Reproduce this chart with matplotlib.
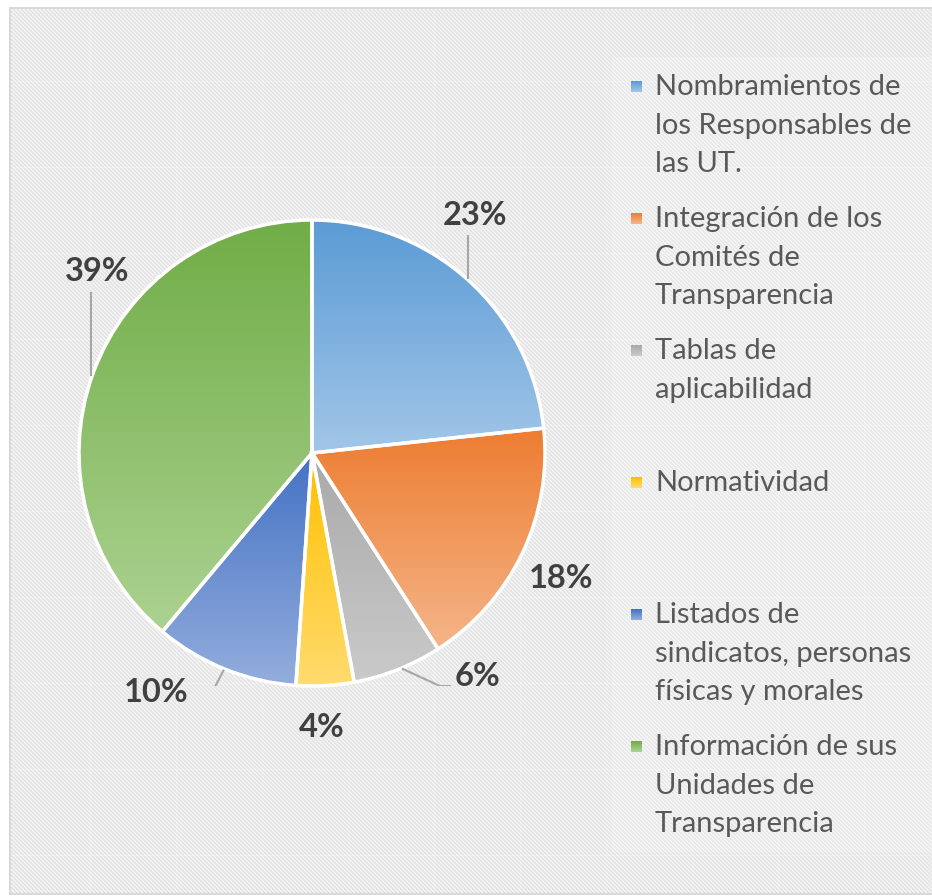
import numpy as np
import matplotlib
matplotlib.use("Agg")
import matplotlib.pyplot as plt
from matplotlib.colors import to_rgb

# ---------------- data ----------------
categories = [
    "Nombramientos de\nlos Responsables de\nlas UT.",
    "Integración de los\nComités de\nTransparencia",
    "Tablas de\naplicabilidad",
    "Normatividad",
    "Listados de\nsindicatos, personas\nfísicas y morales",
    "Información de sus\nUnidades de\nTransparencia",
]
values = [23.3, 17.6, 6.2, 4.0, 10.0, 38.9]
top_colors = ["#5B9BD5", "#ED7D31", "#A9A9A9", "#FFC000", "#4472C4", "#70AD47"]
bottom_colors = ["#A2C6E8", "#F5B589", "#CACACA", "#FFDB6E", "#93ADDD", "#ACD291"]

# label positions (in pie radius units) and leader lines
label_pos = [(0.70, 1.02), (1.07, -0.54), (0.71, -0.96), (0.04, -1.18), (-0.67, -1.03), (-0.92, 0.78)]
leaders = {
    0: [(0.67, 0.745), (0.67, 0.936)],
    2: [(0.386, -0.925), (0.549, -1.0), (0.597, -1.0)],
    4: [(-0.378, -0.93), (-0.459, -1.086), (-0.515, -1.086)],
    5: [(-0.948, 0.33), (-0.948, 0.691)],
}

W, H = 932, 896
fig = plt.figure(figsize=(W / 100, H / 100), dpi=100, facecolor="white")

# ---------------- background (striped pattern) ----------------
rows, cols = np.mgrid[0:H, 0:W]
stripe = 0.5 + 0.5 * np.cos(2 * np.pi * (cols - rows) / 4.0)
dark, light = 0xE0 / 255, 0xF6 / 255
bg = light + (dark - light) * stripe
# legend area slightly lighter
leg = (cols >= 612) & (rows >= 57) & (rows <= 851)
bg = np.where(leg, 0xF8 / 255 + (0xE5 / 255 - 0xF8 / 255) * stripe, bg)
# faint tile seams
seam = ((cols - 90) % 86 == 0) | ((rows - 81) % 86 == 0)
bg = np.where(seam, np.minimum(bg + 0.012, 1.0), bg)
# outside border white
inside = (cols >= 11) & (rows >= 9) & (rows <= 892)
bg = np.where(inside, bg, 1.0)
# border
border = ((cols >= 9) & (cols <= 10) & (rows >= 7) & (rows <= 894)) | \
         ((((rows >= 7) & (rows <= 8)) | ((rows >= 893) & (rows <= 894))) & (cols >= 9))
bg = np.where(border, 0xD9 / 255, bg)
img = np.dstack([bg, bg, bg])
fig.figimage(img, xo=0, yo=0, origin="upper", zorder=-10)

# ---------------- pie ----------------
cx, cy, R = 312, 453, 233
ax = fig.add_axes([(cx - R) / W, (H - cy - R) / H, 2 * R / W, 2 * R / H])
ax.patch.set_alpha(0)
wedges, _ = ax.pie(values, startangle=90, counterclock=False, radius=1,
                   wedgeprops=dict(edgecolor="white", linewidth=2.5, facecolor="none"))


def grad_img(c_top, c_bot, n=256):
    t = np.linspace(0, 1, n)[:, None]
    a = np.array(to_rgb(c_top))
    b = np.array(to_rgb(c_bot))
    g = a[None, None, :] * (1 - t[:, :, None]) + b[None, None, :] * t[:, :, None]
    return np.repeat(g, 2, axis=1)


for w, ct, cb in zip(wedges, top_colors, bottom_colors):
    w.set_facecolor("none")
    w.set_zorder(3)
    ext = w.get_path().get_extents()
    im = ax.imshow(grad_img(ct, cb), extent=(ext.x0, ext.x1, ext.y0, ext.y1),
                   origin="upper", aspect="auto", interpolation="bilinear", zorder=2)
    im.set_clip_path(w)

for i, (v, (lx, ly)) in enumerate(zip(values, label_pos)):
    ax.text(lx, ly, f"{round(v):.0f}%", ha="center", va="center", fontsize=23.5,
            fontweight="bold", color="#404040", family="Lato", zorder=5)
for i, pts in leaders.items():
    xs, ys = zip(*pts)
    ax.plot(xs, ys, color="#A6A6A6", lw=1.5, zorder=4, solid_capstyle="butt")

ax.set_xlim(-1, 1)
ax.set_ylim(-1, 1)
ax.set_aspect("auto")
ax.axis("off")

# ---------------- legend ----------------
lax = fig.add_axes([0, 0, 1, 1])
lax.set_xlim(0, W)
lax.set_ylim(H, 0)
lax.axis("off")
lax.patch.set_alpha(0)
item_y0, item_dy = 85, 132
for k, (name, ct, cb) in enumerate(zip(categories, top_colors, bottom_colors)):
    y = item_y0 + k * item_dy
    lax.imshow(grad_img(ct, cb, 16), extent=(631, 642, y + 7, y - 4), origin="upper",
               aspect="auto", interpolation="bilinear", zorder=2)
    lax.text(655, y - 11, name, ha="left", va="top", fontsize=21, color="#595959",
             family="Lato", linespacing=1.6)
lax.set_xlim(0, W)
lax.set_ylim(H, 0)

fig.savefig("out.png", dpi=100, facecolor="white")
